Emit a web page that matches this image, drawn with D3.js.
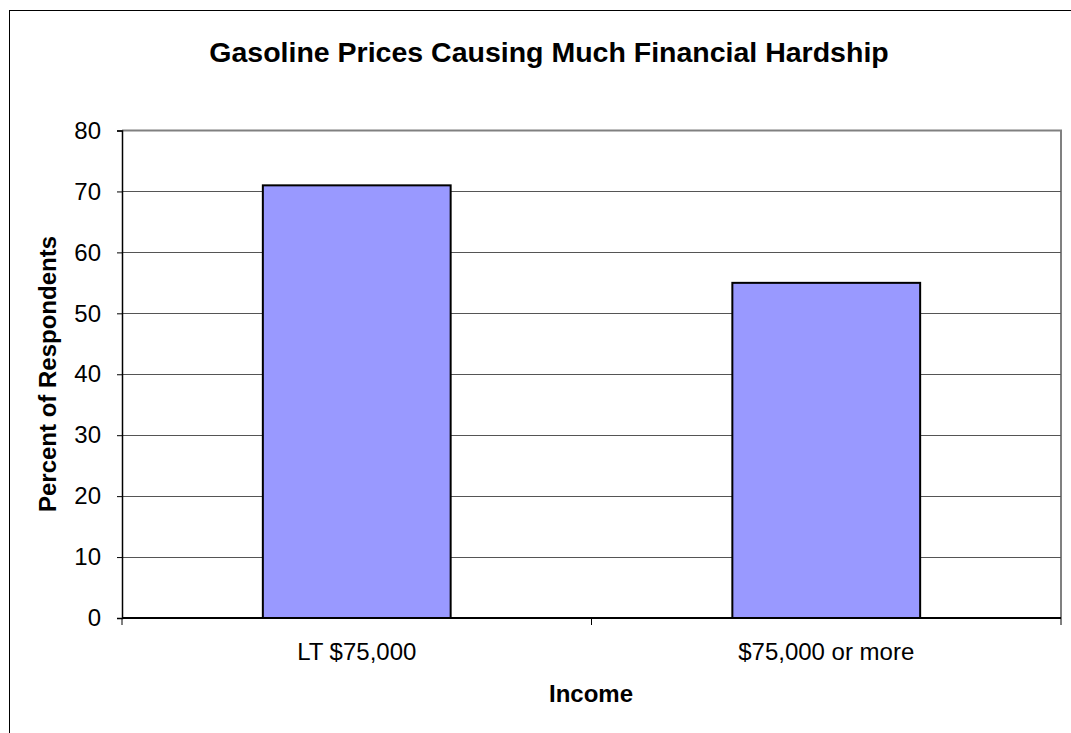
<!DOCTYPE html>
<html>
<head>
<meta charset="utf-8">
<script src="https://cdn.jsdelivr.net/npm/d3@7"></script>
<style>
  html, body { margin: 0; padding: 0; background: #fff; }
  svg { display: block; font-family: Arial, "Liberation Sans", sans-serif; }
</style>
</head>
<body>
<svg id="chart" width="1071" height="733"></svg>
<script>
// Share of respondents reporting much financial hardship from gasoline prices
const categories = ["LT $75,000", "$75,000 or more"];
const values = [71, 55];
const yTicks = [0, 10, 20, 30, 40, 50, 60, 70, 80];

const W = 1071, H = 733;
const plot = { left: 122, right: 1061, top: 130.5, bottom: 618 };
const FONT = "Arial, 'Liberation Sans', sans-serif";

const svg = d3.select("#chart");

// Outer chart frame (only its left and top edges fall inside the window)
svg.append("rect")
  .attr("x", 9.5).attr("y", 10.5)
  .attr("width", W + 20).attr("height", H + 20)
  .attr("fill", "#fff").attr("stroke", "#000").attr("stroke-width", 1);

const x = d3.scaleBand()
  .domain(categories)
  .range([plot.left, plot.right])
  .paddingInner(0.6)
  .paddingOuter(0.3);

const xCat = d3.scaleBand()
  .domain(categories)
  .range([plot.left, plot.right]);

const y = d3.scaleLinear().domain([0, 80]).range([plot.bottom, plot.top]);

// Plot area border (grey top and right edges)
svg.append("path")
  .attr("d", `M${plot.left},${plot.top}H${plot.right}V${plot.bottom}`)
  .attr("fill", "none").attr("stroke", "#808080").attr("stroke-width", 2);

// Horizontal gridlines
svg.append("g").selectAll("line")
  .data(yTicks.filter(d => d > 0 && d < 80))
  .join("line")
  .attr("x1", plot.left).attr("x2", plot.right)
  .attr("y1", d => Math.round(y(d)) + 0.5).attr("y2", d => Math.round(y(d)) + 0.5)
  .attr("stroke", "#555").attr("stroke-width", 1.2);

// Bars
svg.append("g").selectAll("rect")
  .data(values)
  .join("rect")
  .attr("x", (d, i) => x(categories[i]))
  .attr("y", d => y(d))
  .attr("width", x.bandwidth())
  .attr("height", d => y(0) - y(d))
  .attr("fill", "#9999FF")
  .attr("stroke", "#000").attr("stroke-width", 2);

// Y axis
const yAxis = d3.axisLeft(y).tickValues(yTicks).tickSize(5).tickPadding(16);
const gy = svg.append("g")
  .attr("transform", `translate(${plot.left},0)`)
  .call(yAxis);
gy.select(".domain").attr("stroke", "#000").attr("stroke-width", 1.5);
gy.selectAll(".tick line").attr("stroke", "#000");
gy.selectAll(".tick text")
  .attr("font-size", 24).attr("fill", "#000")
  .attr("font-family", FONT);

// X axis: ticks at category boundaries, labels centred under bars
svg.append("line")
  .attr("x1", plot.left).attr("x2", plot.right)
  .attr("y1", plot.bottom).attr("y2", plot.bottom)
  .attr("stroke", "#000").attr("stroke-width", 2);

const boundaries = categories.map(c => xCat(c)).concat([plot.right]);
svg.append("g").selectAll("line")
  .data(boundaries)
  .join("line")
  .attr("x1", d => d).attr("x2", d => d)
  .attr("y1", plot.bottom).attr("y2", plot.bottom + 7)
  .attr("stroke", "#000").attr("stroke-width", 1);

svg.append("g").selectAll("text")
  .data(categories)
  .join("text")
  .attr("x", d => xCat(d) + xCat.bandwidth() / 2)
  .attr("y", 660)
  .attr("text-anchor", "middle")
  .attr("font-size", 24)
  .attr("fill", "#000")
  .text(d => d);

// Titles
svg.append("text")
  .attr("x", 549).attr("y", 62)
  .attr("text-anchor", "middle")
  .attr("font-size", 28.5).attr("font-weight", "bold")
  .text("Gasoline Prices Causing Much Financial Hardship");

svg.append("text")
  .attr("x", 591).attr("y", 702)
  .attr("text-anchor", "middle")
  .attr("font-size", 24).attr("font-weight", "bold")
  .text("Income");

svg.append("text")
  .attr("transform", `translate(56,374) rotate(-90)`)
  .attr("text-anchor", "middle")
  .attr("font-size", 24).attr("font-weight", "bold")
  .text("Percent of Respondents");
</script>
</body>
</html>
